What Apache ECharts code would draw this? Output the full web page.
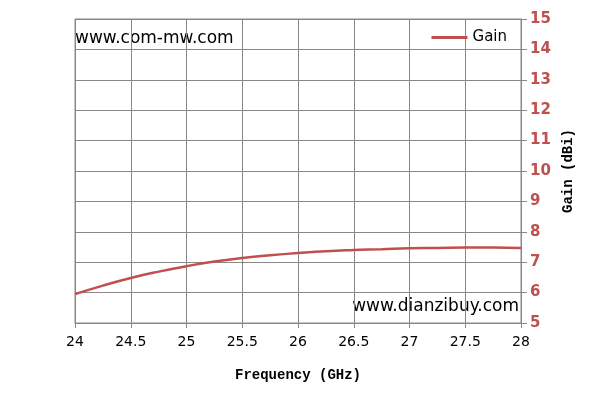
<!DOCTYPE html>
<html><head><meta charset="utf-8">
<script src="https://cdn.jsdelivr.net/npm/echarts@6/dist/echarts.min.js"></script>
<style>html,body{margin:0;padding:0;background:#fff}#c{width:595px;height:404px}</style>
</head><body><div id="c"></div>
<script>
const freq = [24, 24.25, 24.5, 24.75, 25, 25.25, 25.5, 25.75, 26, 26.25, 26.5, 26.75, 27, 27.25, 27.5, 27.75, 28];
const gain = [5.95, 6.23, 6.48, 6.69, 6.87, 7.02, 7.14, 7.23, 7.30, 7.36, 7.40, 7.43, 7.46, 7.47, 7.48, 7.48, 7.47];
const seriesName = 'Gain';
const chart = echarts.init(document.getElementById('c'), null, {renderer: 'canvas'});
chart.setOption({
  animation: false,
  grid: {left: 75, right: 74, top: 19, bottom: 81, show: true, borderColor: '#888', borderWidth: 1},
  legend: {
    right: 88, top: 30, padding: 0, itemWidth: 36, itemHeight: 3, itemGap: 4,
    icon: 'rect',
    textStyle: {fontFamily: 'DejaVu Sans', fontSize: 15, color: '#000'},
    data: [seriesName]
  },
  xAxis: {
    type: 'value', min: 24, max: 28, interval: 0.5,
    name: 'Frequency (GHz)', nameLocation: 'middle', nameGap: 45,
    nameTextStyle: {fontFamily: 'Liberation Mono', fontSize: 14, color: '#000', fontWeight: 'bold'},
    axisLine: {lineStyle: {color: '#888'}},
    axisTick: {show: true, length: 5, lineStyle: {color: '#888'}},
    axisLabel: {fontFamily: 'DejaVu Sans', fontSize: 14, color: '#000', margin: 12},
    splitLine: {lineStyle: {color: '#888', width: 1}}
  },
  yAxis: {
    type: 'value', position: 'right', min: 5, max: 15, interval: 1,
    name: 'Gain (dBi)', nameLocation: 'middle', nameGap: 40, nameRotate: 90,
    nameTextStyle: {fontFamily: 'Liberation Mono', fontSize: 14, color: '#000', fontWeight: 'bold'},
    axisLine: {show: true, lineStyle: {color: '#888'}},
    axisTick: {show: true, length: 6, inside: false, lineStyle: {color: '#888'}},
    axisLabel: {fontFamily: 'DejaVu Sans', fontSize: 15, fontWeight: 'bold', color: '#c0504d', margin: 9},
    splitLine: {lineStyle: {color: '#888', width: 1}}
  },
  graphic: [
    {type: 'text', left: 75, top: 30, style: {text: 'www.com-mw.com', font: '17px "DejaVu Sans"', fill: '#000'}},
    {type: 'text', right: 76, top: 298, style: {text: 'www.dianzibuy.com', font: '17px "DejaVu Sans"', fill: '#000'}}
  ],
  series: [{
    name: seriesName, type: 'line', smooth: true, showSymbol: false,
    lineStyle: {color: '#c0504d', width: 2.5}, itemStyle: {color: '#c0504d'},
    data: freq.map((f, i) => [f, gain[i]])
  }]
});
</script></body></html>
